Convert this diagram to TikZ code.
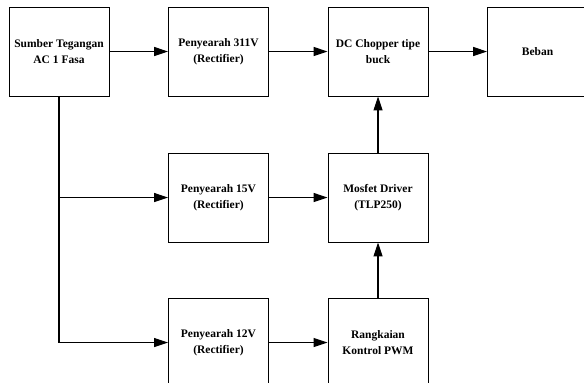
\documentclass[tikz,border=0pt]{standalone}
\usepackage{fontspec}
\setmainfont{Liberation Serif}
\usepackage{tikz}
\usetikzlibrary{arrows.meta,positioning}
\tikzset{
  block/.style={draw=black, line width=0.9pt, align=center, minimum width=100pt, minimum height=89pt, inner sep=2pt, font=\bfseries\fontsize{11.5}{15.5}\selectfont},
  arrow/.style={-{Triangle[length=14pt,width=9pt]}, line width=1.1pt},
  wire/.style={line width=1.1pt}
}
\begin{document}
\begin{tikzpicture}[x=1pt,y=1pt]
\useasboundingbox (0,0) rectangle (584,-383);
\clip (0,0) rectangle (584,-383);
\node[block] (sumber) at (59,-51.5) {Sumber Tegangan\\AC 1 Fasa};
\node[block] (pyr311) at (218.5,-51.5) {Penyearah 311V\\(Rectifier)};
\node[block] (chopper) at (378,-51.5) {DC Chopper tipe\\buck};
\node[block] (beban) at (537.5,-51.5) {Beban};

\node[block] (pyr15) at (218.5,-197.5) {Penyearah 15V\\(Rectifier)};
\node[block] (driver) at (378,-197.5) {Mosfet Driver\\(TLP250)};

\node[block] (pyr12) at (218.5,-342.5) {Penyearah 12V\\(Rectifier)};
\node[block] (pwm) at (378,-342.5) {Rangkaian\\Kontrol PWM};

\draw[arrow] (sumber) -- (pyr311);
\draw[arrow] (pyr311) -- (chopper);
\draw[arrow] (chopper) -- (beban);
\draw[arrow] (sumber.south) |- (pyr15.west);
\draw[arrow] (sumber.south) |- (pyr12.west);
\draw[arrow] (pyr15) -- (driver);
\draw[arrow] (pyr12) -- (pwm);
\draw[arrow] (driver) -- (chopper);
\draw[arrow] (pwm) -- (driver);
\end{tikzpicture}
\end{document}
